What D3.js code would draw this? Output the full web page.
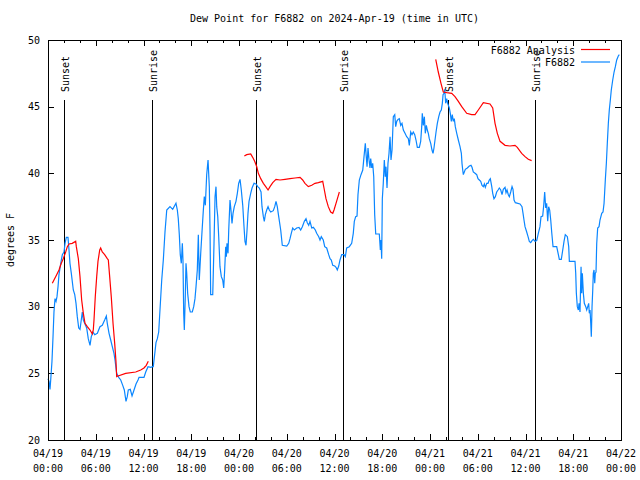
<!DOCTYPE html>
<html><head><meta charset="utf-8">
<script src="https://cdn.jsdelivr.net/npm/d3@7"></script>
<style>
body{margin:0;background:#fff;}
text{font-family:"DejaVu Sans Mono",monospace;font-size:10px;fill:#000;}
</style></head>
<body><svg id="c" width="640" height="480"></svg>
<script>
// ---- data (hours since 2024-04-19 00:00 UTC) ----
const obsHours = [0.00,0.13,0.25,0.34,0.50,0.63,0.75,0.88,1.01,1.13,1.26,1.38,1.60,1.80,2.01,2.14,2.30,2.51,2.64,2.76,2.93,3.18,3.36,3.52,3.68,3.86,4.02,4.18,4.31,4.44,4.61,4.86,5.06,5.28,5.44,5.65,5.87,6.20,6.53,6.82,7.12,7.33,7.45,7.67,7.88,8.08,8.29,8.42,8.63,8.88,9.14,9.39,9.59,9.80,9.96,10.09,10.34,10.56,10.81,11.06,11.31,11.44,12.06,12.28,12.57,12.91,13.16,13.23,13.57,13.74,13.91,14.07,14.29,14.49,14.70,14.92,15.33,15.67,16.08,16.25,16.37,16.50,16.62,16.75,16.88,16.96,17.05,17.13,17.25,17.34,17.43,17.55,17.72,17.88,18.13,18.31,18.47,18.60,18.76,18.89,19.01,19.19,19.35,19.52,19.64,19.77,19.94,20.11,20.27,20.36,20.44,20.70,20.77,20.86,20.99,21.11,21.20,21.33,21.45,21.61,21.78,21.95,22.08,22.20,22.33,22.41,22.49,22.62,22.71,22.87,22.99,23.12,23.25,23.41,23.62,23.79,23.96,24.13,24.29,24.47,24.63,24.75,24.88,25.01,25.13,25.26,25.47,25.64,25.89,26.14,26.35,26.55,26.77,26.89,27.06,27.18,27.31,27.48,27.65,27.81,27.99,28.31,28.49,28.65,28.81,28.99,29.24,29.44,30.00,30.25,30.41,30.57,30.75,30.95,31.25,31.54,31.75,31.96,32.21,32.42,32.58,32.76,32.92,33.14,33.34,33.59,33.76,34.02,34.18,34.34,34.59,34.77,35.02,35.27,35.44,35.60,35.78,36.03,36.19,36.35,36.53,36.69,36.91,37.20,37.36,37.53,37.86,38.16,38.36,38.49,38.66,38.83,38.95,39.12,39.33,39.55,39.71,39.87,39.96,40.09,40.21,40.34,40.46,40.55,40.68,40.80,40.93,41.05,41.18,41.63,41.76,41.84,41.93,42.01,42.13,42.26,42.38,42.47,42.60,42.72,42.85,42.98,43.10,43.23,43.39,43.57,43.69,43.82,43.98,44.14,44.32,44.48,44.65,44.86,45.07,45.28,45.40,45.58,45.74,45.90,46.08,46.24,46.41,46.66,46.83,46.96,47.03,47.16,47.29,47.41,47.54,47.66,47.79,47.91,48.09,48.25,48.38,48.50,48.63,48.76,48.92,49.10,49.26,49.42,49.55,49.64,49.76,49.85,49.97,50.10,50.22,50.43,50.55,50.68,50.80,50.93,51.05,51.18,51.36,51.56,51.77,51.94,52.02,52.11,52.19,52.31,52.44,52.69,52.94,53.15,53.28,53.44,53.66,53.87,54.03,54.20,54.37,54.54,54.70,54.83,54.95,55.13,55.29,55.45,55.58,55.76,55.88,56.04,56.21,56.38,56.55,56.71,56.89,57.05,57.21,57.43,57.55,57.68,57.84,57.97,58.14,58.31,58.43,58.56,58.72,59.31,59.56,59.69,59.81,59.94,60.15,60.32,60.48,60.66,60.82,60.99,61.20,61.41,61.61,61.82,61.95,62.16,62.29,62.41,62.54,62.66,62.79,62.91,63.04,63.17,63.29,63.46,63.92,64.13,64.25,64.50,64.68,64.84,65.00,65.26,65.43,65.51,66.22,66.31,66.39,66.51,66.64,66.73,66.85,66.98,67.06,67.14,67.27,67.39,67.57,67.69,67.82,67.94,68.02,68.11,68.20,68.27,68.36,68.45,68.52,68.61,68.70,68.77,68.86,68.95,69.07,69.24,69.36,69.58,69.74,69.87,70.03,70.16,70.28,70.41,70.53,70.66,70.78,70.96,71.13,71.29,71.46,71.66,71.79];
const obsDew = [24.6,24.4,23.8,24.5,25.9,27.75,29.6,30.6,30.4,30.75,31.5,32.4,33.25,33.9,34.1,34.75,35.2,35.2,34.25,33.25,32.5,31.25,30.9,30.25,29.25,28.4,28.3,29.0,29.6,29.0,28.75,28.4,27.6,27.1,27.75,28.1,27.9,28.0,28.5,28.6,29.0,29.3,28.75,28.0,27.5,27.0,26.5,26.0,25.0,24.7,24.5,24.1,23.75,22.9,23.25,23.75,23.8,23.3,23.75,24.2,24.5,24.7,24.7,25.1,25.5,25.45,25.5,25.5,27.3,27.6,28.1,29.75,32.0,33.5,35.6,37.25,37.5,37.3,37.75,37.25,36.6,35.4,33.9,33.25,34.75,33.5,29.5,28.25,30.75,33.25,32.5,31.0,30.0,29.6,29.6,30.0,30.6,31.5,32.75,35.4,32.0,34.0,35.6,37.25,38.25,37.6,39.9,41.0,39.0,35.75,30.9,30.9,32.5,34.75,38.25,39.0,37.5,36.75,35.25,33.0,32.25,32.0,31.4,32.75,34.5,33.75,34.75,34.0,35.75,38.0,37.25,36.25,37.0,37.5,37.9,38.5,39.25,39.55,38.75,37.6,36.0,34.9,34.6,35.75,37.0,37.9,38.5,38.9,39.25,39.2,39.0,38.9,38.6,37.5,36.75,36.4,36.9,37.25,37.5,37.25,37.1,37.2,37.5,37.9,37.5,36.75,35.75,34.6,34.55,34.75,35.1,35.5,35.9,35.75,35.9,35.95,35.75,36.0,36.4,36.6,36.3,36.1,36.4,35.9,35.95,35.75,35.5,35.25,35.0,35.25,35.0,34.5,34.4,33.9,33.6,33.5,33.1,33.05,32.95,32.75,33.05,33.5,33.9,33.9,33.75,34.4,34.5,34.75,35.5,36.4,36.75,36.8,38.4,39.5,39.9,40.25,41.25,42.25,41.5,40.5,41.9,41.0,40.4,41.1,40.4,40.75,39.75,36.9,35.45,35.45,34.25,35.0,33.6,38.1,39.25,41.0,39.75,40.5,38.9,40.75,41.5,42.75,41.0,41.75,44.25,44.4,43.5,43.9,44.05,44.1,43.6,43.75,43.25,43.0,42.75,42.6,42.1,43.1,42.9,43.1,42.9,42.5,41.95,41.95,42.4,43.5,44.5,43.6,44.25,43.0,43.6,43.25,43.0,42.6,42.25,41.75,41.5,41.9,42.5,43.1,43.75,44.25,44.6,44.75,45.25,45.9,46.0,46.3,45.25,45.6,45.25,44.9,44.5,43.9,44.4,43.9,44.1,43.5,43.0,42.5,42.0,41.5,40.75,40.25,39.9,40.1,40.3,40.4,40.55,40.6,40.45,40.1,40.0,39.9,39.6,39.5,39.4,39.1,39.0,39.2,38.95,39.25,39.25,39.5,39.6,39.0,38.5,38.1,38.25,38.6,38.75,38.9,38.75,38.4,38.8,38.95,38.55,38.75,38.4,38.25,38.6,39.0,38.8,38.0,37.8,37.7,37.5,37.0,36.5,36.0,35.6,35.25,34.9,34.8,34.95,35.05,34.9,34.95,35.5,36.0,36.75,36.8,37.6,38.6,37.4,37.75,36.4,37.5,37.25,36.5,35.6,34.5,34.5,33.9,33.55,33.55,34.25,34.9,35.4,35.25,34.5,33.4,33.4,32.5,31.0,30.0,29.75,30.25,29.6,33.0,31.0,32.5,31.0,30.25,30.0,29.75,30.0,30.25,29.5,29.75,28.75,27.75,30.0,31.25,32.5,32.75,31.75,32.5,32.6,34.75,35.9,36.0,36.5,37.0,37.1,37.75,39.5,40.75,42.25,43.75,44.75,45.5,46.25,47.0,47.6,48.0,48.5,48.8,48.9];

const anaHours1 = [0.54,0.75,1.09,1.38,1.67,1.92,2.22,2.43,2.64,3.05,3.48,3.56,3.81,4.02,4.23,4.44,4.65,4.94,5.28,5.57,5.69,5.78,5.94,6.12,6.28,6.50,6.62,6.82,7.12,7.45,7.58,7.75,7.95,8.17,8.38,8.54,8.63,8.80,9.76,11.02,11.65,12.06,12.35,12.60];
const anaDew1 = [31.75,32.0,32.4,32.75,33.25,33.6,34.1,34.5,34.7,34.75,34.9,34.5,33.6,32.25,30.5,29.5,28.75,28.5,28.25,27.95,28.25,29.0,30.75,32.25,33.4,34.25,34.4,34.1,33.9,33.6,33.5,32.25,30.75,28.75,27.25,25.9,24.75,24.8,25.0,25.1,25.25,25.4,25.6,25.9];
const anaHours2 = [24.67,24.97,25.47,25.72,25.97,26.23,26.43,26.73,27.06,27.36,27.65,27.90,28.24,28.65,29.15,29.78,30.41,31.04,31.67,32.00,32.29,32.71,33.14,33.55,33.97,34.52,34.68,34.93,35.22,35.52,35.78,35.94,36.19,36.44,36.61];
const anaDew2 = [41.3,41.4,41.45,41.2,40.9,40.5,40.0,39.6,39.25,39.0,38.75,39.0,39.3,39.55,39.5,39.55,39.6,39.65,39.7,39.5,39.25,39.0,39.1,39.25,39.3,39.4,38.9,38.1,37.5,37.1,37.0,37.25,37.75,38.25,38.6];
const anaHours3 = [48.72,49.04,49.38,49.67,50.10,50.73,51.14,51.56,51.99,52.61,53.24,53.66,54.07,54.70,55.54,55.88,56.17,56.46,56.80,57.43,58.05,58.68,58.97,59.52,59.94,60.35,60.77];
const anaDew3 = [48.55,47.6,46.75,46.1,46.05,46.0,45.75,45.4,45.0,44.5,44.4,44.4,44.75,45.3,45.2,44.9,43.75,43.0,42.4,42.1,42.05,42.1,41.95,41.5,41.25,41.05,40.95];

const sunHours = [2.05, 13.1, 26.18, 37.12, 50.3, 61.23];
const sunLabels = ["Sunset","Sunrise","Sunset","Sunrise","Sunset","Sunrise"];
const yTicks = [20,25,30,35,40,45,50];
const legendLabels = ["F6882 Analysis","F6882"];
const titleText = "Dew Point for F6882 on 2024-Apr-19 (time in UTC)";
const yLabel = "degrees F";

// ---- chart ----
const t0 = Date.UTC(2024,3,19,0,0);
const H = 3600*1000;
const toDate = h => new Date(t0 + h*H);
const L=48, R=621, T=40, B=440;
const svg = d3.select("#c");
const x = d3.scaleUtc().domain([toDate(0), toDate(72)]).range([L,R]);
const y = d3.scaleLinear().domain([20,50]).range([B,T]);

svg.append("text").attr("x",(L+R)/2).attr("y",22).attr("text-anchor","middle").text(titleText);
svg.append("text").attr("transform",`translate(14,${(T+B)/2}) rotate(-90)`).attr("text-anchor","middle").text(yLabel);

const majorTicks = d3.range(0,73,6).map(toDate);
const minorTicks = d3.range(0,73,2).filter(h=>h%6!==0).map(toDate);

function axisG(axis){ const g = svg.append("g"); g.call(axis); g.select(".domain").remove(); g.selectAll("line").attr("stroke","#000").attr("shape-rendering","crispEdges"); g.selectAll("text").remove(); return g;}
axisG(d3.axisBottom(x).tickValues(majorTicks).tickSizeInner(-6).tickFormat("")).attr("transform",`translate(0,${B})`);
axisG(d3.axisBottom(x).tickValues(minorTicks).tickSizeInner(-3).tickFormat("")).attr("transform",`translate(0,${B})`);
axisG(d3.axisTop(x).tickValues(majorTicks).tickSizeInner(-6).tickFormat("")).attr("transform",`translate(0,${T})`);
axisG(d3.axisTop(x).tickValues(minorTicks).tickSizeInner(-3).tickFormat("")).attr("transform",`translate(0,${T})`);
axisG(d3.axisLeft(y).tickValues(yTicks).tickSizeInner(-6).tickFormat("")).attr("transform",`translate(${L},0)`);
axisG(d3.axisRight(y).tickValues(yTicks).tickSizeInner(-6).tickFormat("")).attr("transform",`translate(${R},0)`);

const fmtD = d3.utcFormat("%m/%d"), fmtT = d3.utcFormat("%H:%M");
majorTicks.forEach(d=>{
  const t = svg.append("text").attr("x",x(d)).attr("text-anchor","middle");
  t.append("tspan").attr("x",x(d)).attr("y",B+17).text(fmtD(d));
  t.append("tspan").attr("x",x(d)).attr("y",B+32).text(fmtT(d));
});
yTicks.forEach(v=>{
  svg.append("text").attr("x",L-8).attr("y",y(v)+3.5).attr("text-anchor","end").text(v);
});

// sun lines
sunHours.forEach((h,i)=>{
  const xx = Math.round(x(toDate(h)))+0.5;
  svg.append("line").attr("x1",xx).attr("x2",xx).attr("y1",B).attr("y2",T+0.15*(B-T)).attr("stroke","#000").attr("stroke-width",1);
  svg.append("text").attr("transform",`translate(${xx+4},${T+0.13*(B-T)}) rotate(-90)`).text(sunLabels[i]);
});

const line = d3.line().x(d=>x(toDate(d[0]))).y(d=>y(d[1]));
const zip = (a,b)=>a.map((v,i)=>[v,b[i]]);
svg.append("path").datum(zip(obsHours,obsDew)).attr("d",line).attr("fill","none").attr("stroke","#0a86ff").attr("stroke-width",1.2);
[[anaHours1,anaDew1],[anaHours2,anaDew2],[anaHours3,anaDew3]].forEach(([a,b])=>{
  svg.append("path").datum(zip(a,b)).attr("d",line).attr("fill","none").attr("stroke","#ff0000").attr("stroke-width",1.2);
});

// frame
svg.append("rect").attr("x",L+0.5).attr("y",T+0.5).attr("width",R-L).attr("height",B-T).attr("fill","none").attr("stroke","#000").attr("shape-rendering","crispEdges");

// legend
const legColors = ["#ff0000","#0a86ff"];
legendLabels.forEach((s,i)=>{
  const yy = 50 + i*12.5;
  svg.append("text").attr("x",575).attr("y",yy+3.5).attr("text-anchor","end").text(s);
  svg.append("line").attr("x1",581).attr("x2",610).attr("y1",yy-0.5).attr("y2",yy-0.5).attr("stroke",legColors[i]).attr("stroke-width",1.2);
});
</script></body></html>
